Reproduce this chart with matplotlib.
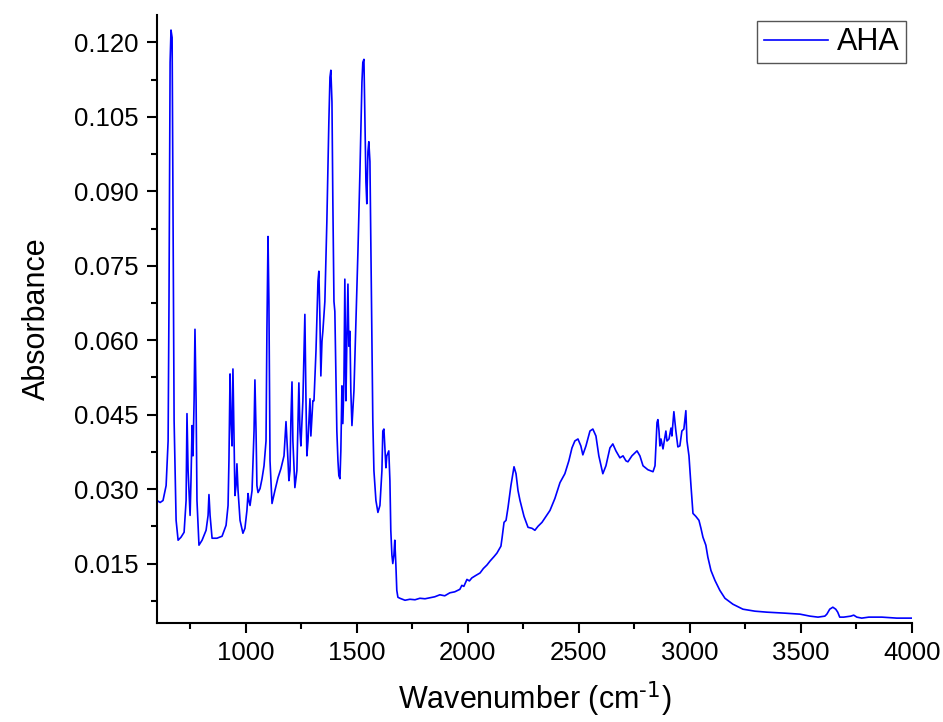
import matplotlib
matplotlib.use("Agg")
import matplotlib.pyplot as plt
from matplotlib.ticker import MultipleLocator, FormatStrFormatter

# FTIR spectrum of AHA
wavenumber = [
    600, 614, 627, 641, 650, 654, 659, 663, 668, 672, 677, 686, 695, 708, 722,
    731, 735, 740, 749, 753, 758, 762, 767, 771, 776, 780, 789, 803, 821, 830,
    834, 839, 848, 870, 893, 911, 920, 924, 929, 933, 938, 942, 947, 951, 956,
    960, 965, 974, 987, 996, 1005, 1010, 1014, 1019, 1028, 1037, 1041, 1046, 1050, 1055,
    1064, 1073, 1082, 1091, 1095, 1100, 1104, 1109, 1118, 1131, 1145, 1158, 1172, 1181, 1190,
    1194, 1199, 1203, 1208, 1212, 1221, 1230, 1235, 1239, 1244, 1248, 1257, 1266, 1271, 1275,
    1280, 1289, 1293, 1302, 1307, 1316, 1325, 1329, 1334, 1338, 1343, 1347, 1356, 1365, 1374,
    1379, 1383, 1388, 1392, 1397, 1401, 1406, 1410, 1415, 1419, 1424, 1428, 1433, 1437, 1442,
    1446, 1451, 1455, 1460, 1464, 1469, 1473, 1478, 1487, 1496, 1505, 1514, 1523, 1527, 1532,
    1536, 1541, 1545, 1550, 1554, 1559, 1563, 1568, 1572, 1577, 1586, 1595, 1604, 1613, 1617,
    1622, 1626, 1631, 1635, 1644, 1649, 1653, 1658, 1662, 1667, 1671, 1676, 1680, 1685, 1694,
    1717, 1739, 1762, 1784, 1807, 1829, 1851, 1874, 1896, 1919, 1941, 1964, 1973, 1982, 1996,
    2007, 2018, 2036, 2055, 2070, 2086, 2100, 2118,
    2131, 2149, 2154, 2163, 2172, 2181, 2194, 2208, 2217, 2226, 2235, 2253, 2271, 2289, 2302,
    2316, 2334, 2352, 2370, 2392, 2415, 2437, 2455, 2469, 2482, 2496, 2509, 2518, 2532, 2550,
    2563, 2577, 2590, 2608, 2622, 2640, 2653, 2667, 2685, 2699, 2712, 2721, 2739, 2762, 2775,
    2789, 2811, 2834, 2843, 2852, 2856, 2861, 2865, 2870, 2879, 2888, 2892, 2897, 2906, 2915,
    2919, 2928, 2937, 2946, 2955, 2964, 2973, 2982, 2987, 2996, 3005, 3014, 3027, 3041, 3050,
    3059, 3072, 3081, 3095, 3113, 3135, 3158, 3194, 3239, 3293, 3347, 3428, 3496, 3541, 3577,
    3608, 3617, 3630, 3644, 3657, 3666, 3675, 3693, 3725, 3738, 3752, 3774, 3806, 3865, 3932,
    4000,
]
absorbance = [
    0.0277, 0.0273, 0.0277, 0.0307, 0.0397, 0.0678, 0.1160, 0.1225, 0.1210, 0.0875, 0.0438, 0.0237, 0.0197, 0.0203, 0.0213,
    0.0277, 0.0452, 0.0337, 0.0247, 0.0317, 0.0428, 0.0367, 0.0478, 0.0622, 0.0478, 0.0277, 0.0187, 0.0197, 0.0217, 0.0247,
    0.0289, 0.0247, 0.0201, 0.0201, 0.0205, 0.0227, 0.0267, 0.0357, 0.0532, 0.0438, 0.0387, 0.0542, 0.0397, 0.0287, 0.0307,
    0.0351, 0.0297, 0.0237, 0.0211, 0.0221, 0.0257, 0.0291, 0.0277, 0.0267, 0.0297, 0.0417, 0.0520, 0.0417, 0.0307, 0.0293,
    0.0301, 0.0321, 0.0347, 0.0397, 0.0618, 0.0809, 0.0678, 0.0357, 0.0271, 0.0297, 0.0323, 0.0341, 0.0367, 0.0436, 0.0357,
    0.0317, 0.0337, 0.0438, 0.0516, 0.0397, 0.0303, 0.0337, 0.0438, 0.0514, 0.0417, 0.0387, 0.0478, 0.0652, 0.0478, 0.0367,
    0.0397, 0.0482, 0.0407, 0.0478, 0.0478, 0.0578, 0.0719, 0.0739, 0.0638, 0.0528, 0.0598, 0.0618, 0.0678, 0.0839, 0.1040,
    0.1130, 0.1144, 0.1080, 0.0879, 0.0678, 0.0658, 0.0518, 0.0417, 0.0357, 0.0327, 0.0321, 0.0377, 0.0508, 0.0432, 0.0518,
    0.0723, 0.0478, 0.0598, 0.0713, 0.0588, 0.0618, 0.0498, 0.0428, 0.0498, 0.0638, 0.0779, 0.0939, 0.1120, 0.1160, 0.1166,
    0.1060, 0.0919, 0.0875, 0.0980, 0.1000, 0.0960, 0.0799, 0.0598, 0.0438, 0.0337, 0.0277, 0.0253, 0.0267, 0.0337, 0.0417,
    0.0421, 0.0387, 0.0343, 0.0367, 0.0377, 0.0317, 0.0217, 0.0167, 0.0150, 0.0167, 0.0197, 0.0146, 0.0096, 0.0082, 0.0080,
    0.0076, 0.0078, 0.0077, 0.0080, 0.0079, 0.0081, 0.0083, 0.0087, 0.0085, 0.0091, 0.0093, 0.0098, 0.0106, 0.0104, 0.0118,
    0.0115, 0.0121, 0.0126, 0.0131, 0.0140, 0.0147, 0.0155, 0.0164,
    0.0171, 0.0185, 0.0201, 0.0233, 0.0237, 0.0263, 0.0307, 0.0345, 0.0331, 0.0297, 0.0277, 0.0245, 0.0223, 0.0221, 0.0217,
    0.0225, 0.0233, 0.0245, 0.0257, 0.0281, 0.0313, 0.0331, 0.0357, 0.0383, 0.0397, 0.0401, 0.0387, 0.0369, 0.0387, 0.0417,
    0.0421, 0.0407, 0.0367, 0.0331, 0.0347, 0.0383, 0.0391, 0.0377, 0.0363, 0.0367, 0.0357, 0.0355, 0.0367, 0.0377, 0.0367,
    0.0347, 0.0339, 0.0335, 0.0347, 0.0434, 0.0440, 0.0417, 0.0387, 0.0401, 0.0381, 0.0405, 0.0417, 0.0397, 0.0401, 0.0423,
    0.0407, 0.0456, 0.0417, 0.0385, 0.0387, 0.0417, 0.0421, 0.0458, 0.0397, 0.0367, 0.0307, 0.0251, 0.0245, 0.0237, 0.0221,
    0.0203, 0.0187, 0.0163, 0.0136, 0.0116, 0.0096, 0.0080, 0.0068, 0.0058, 0.0054, 0.0052, 0.0050, 0.0048, 0.0044, 0.0042,
    0.0044, 0.0048, 0.0058, 0.0062, 0.0058, 0.0052, 0.0042, 0.0042, 0.0044, 0.0046, 0.0042, 0.0040, 0.0042, 0.0042, 0.0040,
    0.0040,
]

plt.rcParams["font.family"] = ["Liberation Sans", "DejaVu Sans"]
plt.rcParams["mathtext.default"] = "regular"

fig = plt.figure(figsize=(9.43, 7.22), dpi=100)
ax = fig.add_axes([0.1665, 0.137, 0.8005, 0.842])

ax.plot(wavenumber, absorbance, color="#0000ff", linewidth=1.2, label="AHA")

ax.set_xlim(600, 4000)
ax.set_ylim(0.003, 0.1255)
ax.xaxis.set_major_locator(MultipleLocator(500))
ax.xaxis.set_minor_locator(MultipleLocator(250))
ax.yaxis.set_major_locator(MultipleLocator(0.015))
ax.yaxis.set_minor_locator(MultipleLocator(0.0075))
ax.yaxis.set_major_formatter(FormatStrFormatter("%.3f"))

for side in ["top", "right"]:
    ax.spines[side].set_visible(False)
for side in ["left", "bottom"]:
    ax.spines[side].set_linewidth(1.5)

ax.tick_params(which="major", direction="out", length=7, width=1.5, labelsize=18.5, pad=6)
ax.tick_params(which="minor", direction="out", length=4, width=1.5)

ax.set_xlabel("Wavenumber (cm$^{\\text{-1}}$)", fontsize=22, labelpad=10)
ax.set_ylabel("Absorbance", fontsize=22, labelpad=16)

leg = ax.legend(loc="upper right", fontsize=22, handlelength=2.1, handletextpad=0.3,
                borderpad=0.2, borderaxespad=0.2, fancybox=False, framealpha=1)
leg.get_frame().set_edgecolor("#555555")
leg.get_frame().set_linewidth(1.0)

fig.savefig("out.png", dpi=100)
